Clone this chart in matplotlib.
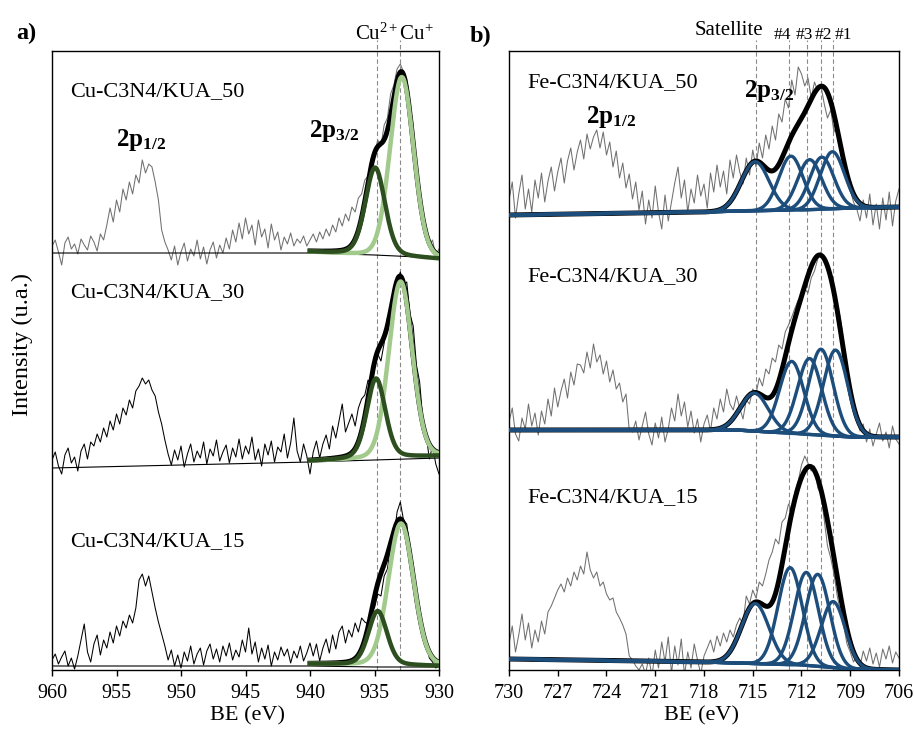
import numpy as np
import matplotlib
matplotlib.use('Agg')
import matplotlib.pyplot as plt

plt.rcParams['font.family'] = ['Liberation Serif', 'DejaVu Serif']
plt.rcParams['mathtext.fontset'] = 'custom'
plt.rcParams['mathtext.rm'] = 'Liberation Serif'
plt.rcParams['mathtext.it'] = 'Liberation Serif:italic'
plt.rcParams['mathtext.bf'] = 'Liberation Serif:bold'

#####
# Cu 2p spectra (BE 960 -> 930 eV, 0.25 eV step), intensity in arbitrary stacked units
#####
be_cu = np.linspace(960, 930, 121)
cu50_raw = [424, 430, 418, 405, 427, 433, 421, 426, 416, 431, 425, 420, 434, 428, 419, 436, 430,
            445, 462, 448, 470, 458, 481, 470, 488, 476, 495, 487, 510, 497, 506, 503, 488, 470, 440, 428, 420,
            410, 424, 405, 418, 427, 409, 421, 414, 430, 411, 423, 406, 420, 428, 412, 425, 417, 432,
            421, 440, 428, 447, 431, 452, 436, 445, 425, 450, 433, 441, 422, 446, 430, 438, 420, 433, 426, 437, 424, 431,
            427, 434, 424, 430, 436, 428, 438, 431, 441, 434, 445, 438, 452, 444, 456, 449, 463, 458, 472, 476,
            490, 494, 512, 516, 530, 524, 545, 552, 576, 585, 601, 606, 598, 591, 565, 544, 506, 484, 455, 444,
            425, 430, 414, 421]
cu30_raw = [210, 218, 204, 196, 215, 222, 207, 213, 199, 219, 226, 211, 228,
            224, 236, 228, 242, 233, 249, 240, 256, 246, 262, 255, 270, 262, 279, 284, 292, 286, 290, 280, 274,
            258, 246, 230, 216,
            205, 220, 210, 224, 203, 216, 226, 208, 219, 212, 228, 206, 221, 214, 230, 209, 218, 225, 207, 222,
            213, 231, 211, 224, 216, 233, 210, 221, 204, 226, 215, 229, 208, 223, 218, 236, 212, 227, 252, 219,
            208, 226, 214, 196,
            218, 229, 212, 226, 235, 221, 244, 232, 249, 266, 238, 247, 256, 244, 262, 271,
            275, 290, 285, 301, 316, 309, 327, 352, 362, 384, 387, 398, 386, 388, 356, 344, 305, 288, 250, 236,
            211, 224, 206, 196]
cu15_raw = [10, 16, 6, 13, 19, 4, 12, 1, 14, 30, 46, 18, 8, 26, 35, 15, 30, 22, 38, 27, 44, 34, 49, 42, 55, 47,
            62, 90, 96, 84, 94, 78, 62, 48, 36, 24, 10,
            20, 4, 15, 2, 18, 9, 24, 6, 16, 22, 5, 19, 26, 11, 21, 8, 24, 14, 27, 10,
            20, 13, 30, 18, 42, 16, 28, 8,
            22, 11, 25, 4, 18, 10, 23, 14, 21, 7, 19, 12, 24, 9, 17, 27,
            14, 26, 9, 22, 31, 17, 35, 21, 38, 44, 27, 40, 33, 47, 38, 52,
            48, 46, 60, 62, 76, 74, 94, 101, 124, 132, 158, 168, 150, 146, 120, 105, 76, 62, 38, 30,
            12, 8, 2, 4]
cu_labels = ['Cu-C3N4/KUA_50', 'Cu-C3N4/KUA_30', 'Cu-C3N4/KUA_15']

# thin Shirley baselines under the raw data
cu_base_be = [960, 940, 935, 930]
cu50_base = [417, 417, 415, 412]
cu30_base = [202, 208, 210, 212]
cu15_base = [4, 4, 3, 3]

# fitted components (940 -> 930 eV): background at 940 / 930, Cu2+ and Cu+ peaks
cu_fit_bg = [[418, 411], [209, 214], [6, 4]]
cu2_center = [934.95, 934.88, 934.75]
cu2_height = [88, 80, 54]
cu2_fwhm = [1.8, 1.7, 1.7]
cu1_center = [932.88, 932.98, 932.95]
cu1_height = [180, 176, 142]
cu1_fwhm = [2.15, 2.15, 2.3]
cu_lines = [934.78, 933.05]

#####
# Fe 2p spectra (BE 730 -> 706 eV, 0.2 eV step)
#####
be_fe = np.linspace(730, 706, 121)
fe50_raw = [470, 488, 452, 476, 495, 461, 481, 458, 490, 472, 497,
            468, 489, 503, 479, 498, 512, 487, 509, 522, 500, 518, 530, 511, 536, 521, 533, 540, 522, 538, 515,
            528, 503, 519, 492, 507, 482, 496, 471, 488, 460,
            479, 446, 470, 452, 484, 458, 441, 475, 449, 468, 487, 503, 472, 490, 458, 481, 467, 495, 474, 486,
            462, 497, 478, 505, 483, 499, 476, 510, 492, 515,
            498, 486, 512, 495, 520, 503, 527, 512, 535, 521, 544, 530, 556, 548, 571, 562, 590, 575, 603, 596,
            584, 592, 572, 588, 579, 584, 566, 552, 560, 538, 545, 520, 506, 489, 480, 468, 461, 449, 470, 452,
            476, 445, 466, 441, 472, 450, 478, 444, 469, 481]
fe30_raw = [248, 262, 236, 229, 252, 241, 266, 244, 257, 235, 259, 246, 271, 254, 282, 263, 279, 291, 272, 298,
            285, 306, 305, 297, 318, 302, 326, 308, 315, 296, 309, 288, 300, 281, 287, 268, 276, 240, 238, 249,
            230,
            244, 258, 236, 225, 247, 232, 253, 228, 241, 262, 249, 276, 254, 268, 243, 259, 237, 251, 228, 246,
            255, 239, 262, 251, 271, 258, 281, 266, 260, 274,
            262, 251, 270, 266, 281, 276, 292, 284, 301, 296, 312, 308, 325, 321, 338, 345, 353, 362, 370, 368,
            381, 377, 392, 399, 411, 418, 409, 402, 394, 380, 366, 351, 327, 305, 276, 262, 251, 239, 246, 228,
            241, 224, 236, 247, 229, 238, 222, 244, 231, 226]
fe15_raw = [26, 44, 18, 35, 56, 30, 47, 22, 40, 28, 49, 36, 58,
            64, 72, 80, 86, 78, 92, 84, 98, 90, 104, 96, 118, 100, 92, 98, 84, 88, 76, 70, 72, 58, 52, 45, 36,
            14, 10, 4, 0,
            6, -4, 12, -6, 20, 2, 28, 8, 33, -3, 24, 5, 31, -5, 18, 2, 26, 10, -4, 14,
            22, 30, 18, 34, 24, 37, 28, 40, 33, 45,
            52, 46, 74, 66, 80, 72, 88, 84, 96, 110, 118, 131, 126, 148, 152, 166, 160, 178, 189, 205,
            214, 207, 199, 204, 182, 176, 150, 124, 112, 96, 74, 58, 44, 26, 18, 8, 14, 4, 19, 9,
            22, 6, 17, 3, 21, 11, 24, 7, 18, 12]
fe_labels = ['Fe-C3N4/KUA_50', 'Fe-C3N4/KUA_30', 'Fe-C3N4/KUA_15']

# Shirley backgrounds of the fits
fe_bg_be = [730, 718, 716, 712, 709, 706]
fe50_bg = [455, 458, 459, 460, 462, 463]
fe30_bg = [240, 240, 240, 236, 233, 233]
fe15_bg = [11, 8, 7, 5, 1, 0]

# components: satellite, #4, #3, #2, #1
fe_centers = [[714.85, 712.65, 711.5, 710.75, 710.1],
              [714.9, 712.6, 711.5, 710.8, 709.9],
              [714.85, 712.7, 711.7, 711.0, 710.05]]
fe_heights = [[49, 54, 50, 52, 57],
              [38, 72, 76, 86, 86],
              [60, 97, 93, 92, 66]]
fe_fwhm = [2.0, 1.75, 1.75, 1.75, 1.75]
fe_lines = [714.8, 712.75, 711.65, 710.8, 710.05]
fe_line_names = ['#4', '#3', '#2', '#1']

LIGHT_GREEN = '#a2ca8d'
DARK_GREEN = '#2d4e1e'
BLUE = '#1c4d7b'
RAW_GREY = '#707070'
DASH_GREY = '#8a8a8a'


def peak(x, center, height, fwhm, eta=0.0):
    g = np.exp(-4 * np.log(2) * ((x - center) / fwhm) ** 2)
    l = 1.0 / (1 + 4 * ((x - center) / fwhm) ** 2)
    return height * ((1 - eta) * g + eta * l)


fig = plt.figure(figsize=(9.14, 7.31), dpi=100)
W, H = 914.0, 731.0
ax_a = fig.add_axes([52 / W, 61 / H, 387 / W, 619 / H])
ax_b = fig.add_axes([509 / W, 61 / H, 390 / W, 619 / H])

###
# panel a: Cu 2p
###
x_fit = np.linspace(940, 930, 201)
cu_raws = [cu50_raw, cu30_raw, cu15_raw]
cu_bases = [cu50_base, cu30_base, cu15_base]
cu_raw_colors = [RAW_GREY, 'black', 'black']
for k in range(3):
    ax_a.plot(be_cu, cu_raws[k], color=cu_raw_colors[k], lw=0.75, zorder=2)
    ax_a.plot(cu_base_be, cu_bases[k], color='black', lw=0.8, zorder=2)
    bg = np.interp(x_fit, [930, 940], cu_fit_bg[k][::-1])
    c2 = peak(x_fit, cu2_center[k], cu2_height[k], cu2_fwhm[k], 0.25)
    c1 = peak(x_fit, cu1_center[k], cu1_height[k], cu1_fwhm[k], 0.1)
    ax_a.plot(x_fit, bg + c1 + c2, color='black', lw=3.6, zorder=3)
    ax_a.plot(x_fit, bg + c1, color=LIGHT_GREEN, lw=3.2, zorder=4)
    ax_a.plot(x_fit, bg + c2, color=DARK_GREEN, lw=3.2, zorder=4)

ax_a.vlines(cu_lines, 0, 630, colors=DASH_GREY, linestyles=(0, (4, 2.5)), lw=0.8, clip_on=False, zorder=1)
ax_a.set_xlim(960, 930)
ax_a.set_ylim(0, 619)
ax_a.set_xticks(np.arange(960, 929, -5))

###
# panel b: Fe 2p
###
fe_raws = [fe50_raw, fe30_raw, fe15_raw]
fe_bgs = [fe50_bg, fe30_bg, fe15_bg]
xs = np.linspace(730, 706, 481)
for k in range(3):
    ax_b.plot(be_fe, fe_raws[k], color=RAW_GREY, lw=0.75, zorder=2)
    bg_s = np.interp(xs, fe_bg_be[::-1], fe_bgs[k][::-1])
    comps = [peak(xs, c, h, w) for c, h, w in zip(fe_centers[k], fe_heights[k], fe_fwhm)]
    ax_b.plot(xs, bg_s + np.sum(comps, axis=0), color='black', lw=3.6, zorder=3)
    ax_b.plot(xs, bg_s, color=BLUE, lw=2.4, zorder=4)
    for comp in comps:
        ax_b.plot(xs, bg_s + comp, color=BLUE, lw=2.4, zorder=4)

ax_b.vlines(fe_lines, 0, 630, colors=DASH_GREY, linestyles=(0, (4, 2.5)), lw=0.8, clip_on=False, zorder=1)
ax_b.set_xlim(730, 706)
ax_b.set_ylim(0, 619)
ax_b.set_xticks(np.arange(730, 705, -3))

for ax in (ax_a, ax_b):
    ax.set_yticks([])
    ax.tick_params(axis='x', direction='out', length=4, width=1, labelsize=14.5, pad=6)
    for s in ax.spines.values():
        s.set_linewidth(1.0)


def ft(x, y, s, **kw):
    fig.text(x / W, 1 - y / H, s, **kw)


# axis titles
ft(22, 345, 'Intensity (u.a.)', rotation=90, ha='center', va='center', fontsize=17.5)
ft(247, 706, 'BE (eV)', ha='center', va='top', fontsize=16)
ft(702, 706, 'BE (eV)', ha='center', va='top', fontsize=16)

# panel letters
ft(16, 33, 'a)', ha='left', va='center', fontsize=17.5, fontweight='bold')
ft(470, 36, 'b)', ha='left', va='center', fontsize=17.5, fontweight='bold')

# sample names
for y, s in zip([92, 293, 542], cu_labels):
    ft(70, y, s, ha='left', va='center', fontsize=16)
for y, s in zip([83, 277, 498], fe_labels):
    ft(527, y, s, ha='left', va='center', fontsize=16)

# peak names
ft(116, 146, r'$\mathbf{2p}_{\mathbf{1/2}}$', ha='left', va='baseline', fontsize=18)
ft(309, 137, r'$\mathbf{2p}_{\mathbf{3/2}}$', ha='left', va='baseline', fontsize=18)
ft(586, 123, r'$\mathbf{2p}_{\mathbf{1/2}}$', ha='left', va='baseline', fontsize=18)
ft(744, 97, r'$\mathbf{2p}_{\mathbf{3/2}}$', ha='left', va='baseline', fontsize=18)

# component labels above the axes
ft(355, 40, r'Cu$^{2+}$Cu$^{+}$', ha='left', va='baseline', fontsize=15)
ft(695, 35, 'Satellite', ha='left', va='baseline', fontsize=15)
for x, s in zip([782, 804, 823, 843], fe_line_names):
    ft(x, 39, s, ha='center', va='baseline', fontsize=12.5)

fig.savefig('out.png', dpi=100)
